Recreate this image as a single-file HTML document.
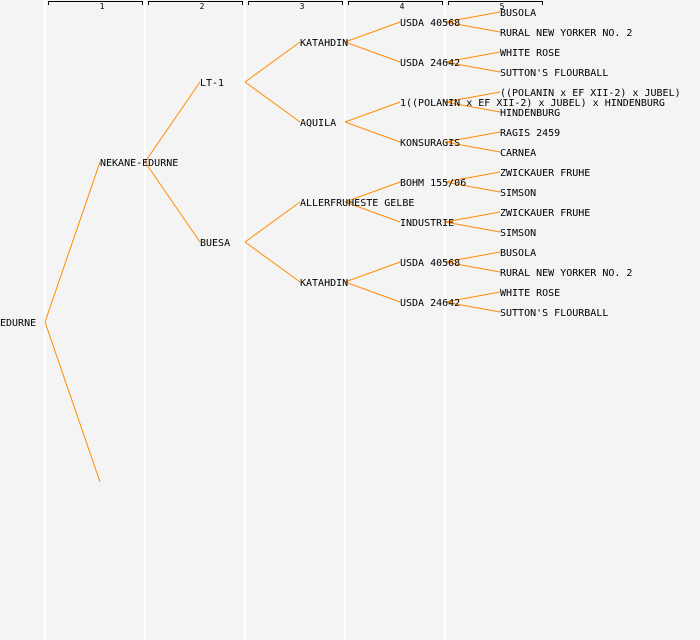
<!DOCTYPE html>
<html><head><style>body{margin:0;background:#fff}svg{display:block}</style></head><body>
<svg width="700" height="640" xmlns="http://www.w3.org/2000/svg" font-family="DejaVu Sans Mono, Liberation Mono, monospace">
<rect width="700" height="640" fill="#f4f4f4"/>
<g stroke="#fff" stroke-width="2"><line x1="45" y1="0" x2="45" y2="640"/><line x1="145" y1="0" x2="145" y2="640"/><line x1="245" y1="0" x2="245" y2="640"/><line x1="345" y1="0" x2="345" y2="640"/><line x1="445" y1="0" x2="445" y2="640"/></g>
<g stroke="#000" fill="none" stroke-width="1">
<path d="M48.5 5V1.5H142.5V5"/><path d="M148.5 5V1.5H242.5V5"/><path d="M248.5 5V1.5H342.5V5"/><path d="M348.5 5V1.5H442.5V5"/><path d="M448.5 5V1.5H542.5V5"/></g>
<g font-size="8" text-anchor="middle" fill="#000"><text x="102" y="9">1</text><text x="202" y="9">2</text><text x="302" y="9">3</text><text x="402" y="9">4</text><text x="502" y="9">5</text></g>
<g stroke="#ff8c00" stroke-width="1" fill="none">
<path d="M45 322L100 162M45 322L100 482"/>
<path d="M145 162L200 82M145 162L200 242"/>
<path d="M245 82L300 42M245 82L300 122M245 242L300 202M245 242L300 282"/>
<path d="M345 42L400 22M345 42L400 62M345 122L400 102M345 122L400 142M345 202L400 182M345 202L400 222M345 282L400 262M345 282L400 302"/>
<path d="M445 22L500 12M445 22L500 32M445 62L500 52M445 62L500 72M445 102L500 92M445 102L500 112M445 142L500 132M445 142L500 152M445 182L500 172M445 182L500 192M445 222L500 212M445 222L500 232M445 262L500 252M445 262L500 272M445 302L500 292M445 302L500 312"/>
</g>
<g font-size="10" fill="#000">
<text x="0" y="326">EDURNE</text>
<text x="100" y="166">NEKANE-EDURNE</text>
<text x="200" y="86">LT-1</text><text x="200" y="246">BUESA</text>
<text x="300" y="46">KATAHDIN</text><text x="300" y="126">AQUILA</text><text x="300" y="206">ALLERFRUHESTE GELBE</text><text x="300" y="286">KATAHDIN</text>
<text x="400" y="26">USDA 40568</text><text x="400" y="66">USDA 24642</text><text x="400" y="106">1((POLANIN x EF XII-2) x JUBEL) x HINDENBURG</text><text x="400" y="146">KONSURAGIS</text><text x="400" y="186">BOHM 155/06</text><text x="400" y="226">INDUSTRIE</text><text x="400" y="266">USDA 40568</text><text x="400" y="306">USDA 24642</text>
<text x="500" y="16">BUSOLA</text><text x="500" y="36">RURAL NEW YORKER NO. 2</text><text x="500" y="56">WHITE ROSE</text><text x="500" y="76">SUTTON'S FLOURBALL</text><text x="500" y="96">((POLANIN x EF XII-2) x JUBEL)</text><text x="500" y="116">HINDENBURG</text><text x="500" y="136">RAGIS 2459</text><text x="500" y="156">CARNEA</text><text x="500" y="176">ZWICKAUER FRUHE</text><text x="500" y="196">SIMSON</text><text x="500" y="216">ZWICKAUER FRUHE</text><text x="500" y="236">SIMSON</text><text x="500" y="256">BUSOLA</text><text x="500" y="276">RURAL NEW YORKER NO. 2</text><text x="500" y="296">WHITE ROSE</text><text x="500" y="316">SUTTON'S FLOURBALL</text>
</g>
</svg>
</body></html>
